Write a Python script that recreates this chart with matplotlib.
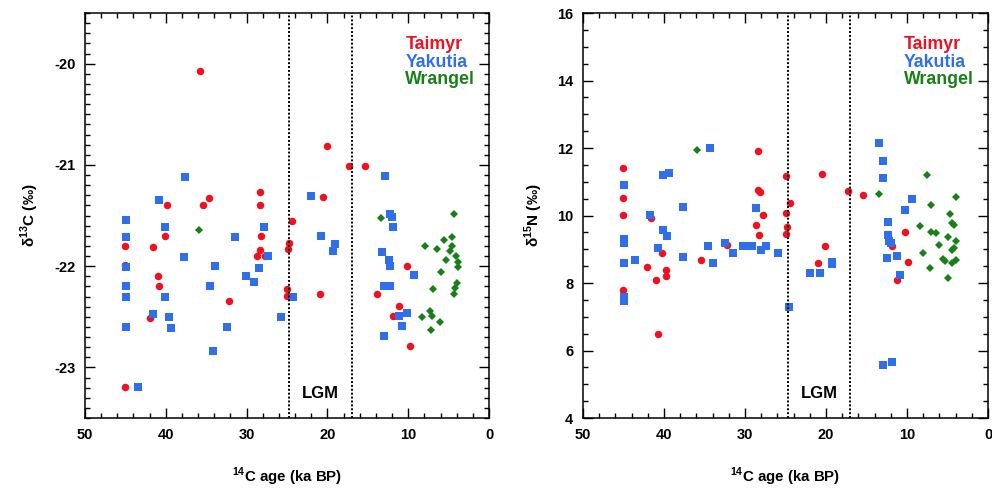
import numpy as np
import matplotlib
matplotlib.use("Agg")
import matplotlib.pyplot as plt
from matplotlib.ticker import MultipleLocator

plt.rcParams['font.family'] = ['Liberation Sans', 'DejaVu Sans']
plt.rcParams['font.weight'] = 'bold'
plt.rcParams['axes.unicode_minus'] = False
plt.rcParams['mathtext.fontset'] = 'custom'
plt.rcParams['mathtext.rm'] = 'Liberation Sans:bold'
plt.rcParams['mathtext.bf'] = 'Liberation Sans:bold'

# ---- d13C data (age in ka BP, value in permil) ----
taimyr_c_age = [35.8, 34.7, 28.3, 39.8, 35.4, 28.3, 40.1, 28.2, 45.0, 41.6, 28.3, 28.7,
                27.7, 24.8, 24.9, 24.4, 45.0, 41.0, 40.8, 25.0, 25.0, 32.2, 42.0, 45.0,
                20.0, 17.3, 15.3, 20.5, 20.9, 10.2, 13.9, 11.1, 11.9, 9.8]
taimyr_c = [-20.07, -21.33, -21.27, -21.40, -21.40, -21.40, -21.70, -21.70, -21.80, -21.81,
            -21.84, -21.90, -21.90, -21.77, -21.83, -21.55, -21.99, -22.10, -22.20, -22.23,
            -22.29, -22.34, -22.51, -23.19, -20.81, -21.01, -21.01, -21.32, -22.28, -22.00,
            -22.28, -22.39, -22.49, -22.79]

yakutia_c_age = [37.6, 40.8, 44.9, 40.1, 27.9, 44.9, 31.4, 27.3, 37.7, 44.9, 33.9, 28.5,
                 30.1, 29.1, 44.9, 34.5, 24.2, 44.9, 40.1, 41.6, 39.6, 25.8, 44.9, 39.4,
                 32.4, 34.2, 43.5, 22.0, 20.8, 19.1, 19.3, 12.9, 12.3, 12.0, 11.9, 13.2,
                 12.4, 12.2, 9.3, 13.0, 12.3, 11.1, 10.2, 10.8, 13.0]
yakutia_c = [-21.12, -21.35, -21.54, -21.61, -21.61, -21.71, -21.71, -21.90, -21.91, -22.01,
             -22.00, -22.02, -22.10, -22.16, -22.20, -22.20, -22.30, -22.30, -22.30, -22.47,
             -22.50, -22.50, -22.60, -22.61, -22.60, -22.84, -23.19, -21.31, -21.70, -21.78,
             -21.85, -21.11, -21.48, -21.51, -21.61, -21.86, -21.94, -22.00, -22.09, -22.20,
             -22.20, -22.49, -22.46, -22.59, -22.69]

wrangel_c_age = [35.9, 13.4, 4.3, 7.9, 6.4, 5.6, 4.6, 4.6, 4.8, 4.1, 5.3, 3.8, 3.8, 5.9,
                 6.9, 4.0, 4.2, 4.4, 7.3, 8.3, 7.1, 6.1, 7.2]
wrangel_c = [-21.64, -21.52, -21.48, -21.80, -21.83, -21.74, -21.71, -21.80, -21.85, -21.90,
             -21.94, -21.96, -22.01, -22.06, -22.23, -22.17, -22.22, -22.28, -22.44, -22.50,
             -22.49, -22.55, -22.63]

# ---- d15N data ----
taimyr_n_age = [45.1, 45.1, 28.4, 25.0, 28.4, 28.2, 45.1, 41.6, 40.2, 42.1, 39.8, 39.8,
                41.0, 45.1, 40.8, 35.4, 32.2, 27.8, 28.7, 28.3, 25.0, 20.5, 17.3, 15.4,
                24.4, 24.8, 24.9, 20.1, 21.0, 10.3, 11.9, 9.9, 11.2]
taimyr_n = [11.41, 10.52, 11.91, 11.17, 10.77, 10.70, 10.01, 9.94, 8.90, 8.46, 8.40, 8.20,
            8.10, 7.80, 6.48, 8.69, 9.14, 10.01, 9.71, 9.41, 10.08, 11.23, 10.72, 10.62,
            10.36, 9.66, 9.46, 9.10, 8.60, 9.50, 9.09, 8.62, 8.10]

yakutia_n_age = [45.0, 40.1, 39.4, 34.3, 41.7, 37.7, 40.1, 39.6, 45.0, 45.0, 40.8, 45.0,
                 43.6, 45.0, 45.0, 37.7, 34.6, 34.0, 32.5, 31.5, 30.2, 29.6, 29.1, 28.0,
                 27.4, 25.9, 28.6, 24.6, 22.0, 20.8, 19.3, 19.2, 13.4, 13.0, 13.0, 9.4,
                 10.3, 12.3, 12.3, 12.2, 12.0, 12.5, 11.2, 10.9, 13.0, 11.9]
yakutia_n = [10.90, 11.20, 11.27, 12.01, 10.01, 10.26, 9.58, 9.38, 9.29, 9.19, 9.04, 8.60,
             8.69, 7.58, 7.48, 8.77, 9.09, 8.59, 9.19, 8.89, 9.09, 9.09, 9.09, 8.99,
             9.09, 8.89, 10.21, 7.29, 8.29, 8.29, 8.55, 8.62, 12.14, 11.63, 11.10, 10.50,
             10.16, 9.81, 9.41, 9.24, 9.19, 8.75, 8.79, 8.25, 5.57, 5.65]

wrangel_n_age = [35.9, 13.5, 7.5, 4.0, 7.1, 4.7, 4.4, 4.2, 8.4, 7.0, 6.4, 4.9, 3.9, 6.1,
                 4.2, 4.4, 8.0, 5.5, 5.3, 4.0, 4.4, 7.2, 4.9]
wrangel_n = [11.94, 10.63, 11.20, 10.55, 10.31, 10.06, 9.78, 9.71, 9.69, 9.51, 9.49, 9.36,
             9.25, 9.12, 9.05, 8.97, 8.90, 8.72, 8.65, 8.67, 8.59, 8.45, 8.15]

lgm_bounds = [24.7, 17.0]
regions = ["Taimyr", "Yakutia", "Wrangel"]
colors = ["#f01020", "#2f6fec", "#178017"]
markers = ["o", "s", "D"]
msizes = [5.4, 5.4, 4.5]

fig = plt.figure(figsize=(9.92, 4.9), dpi=100)
ax1 = fig.add_axes([0.0857, 0.1469, 0.4073, 0.8265])
ax2 = fig.add_axes([0.5877, 0.1469, 0.4083, 0.8265])


def draw_panel(ax, series, ylim, ymajor, yminor, ylabel):
    for (x, y), c, m, ms in zip(series, colors, markers, msizes):
        ax.plot(x, y, linestyle="none", marker=m, color=c, markersize=ms,
                markeredgewidth=0)
    for b in lgm_bounds:
        ax.axvline(b, color="black", linestyle=(0, (1, 1)), linewidth=1.4)
    ax.text(np.mean(lgm_bounds), 0.06, "LGM", transform=ax.get_xaxis_transform(),
            ha="center", va="center", fontsize=12, fontweight="bold")
    for i, (name, c) in enumerate(zip(regions, colors)):
        ax.text(0.793, 0.923 - i * 0.044, name, transform=ax.transAxes, color=c,
                ha="left", va="center", fontsize=12.8, fontweight="bold")
    ax.set_xlim(50, 0)
    ax.set_ylim(*ylim)
    ax.xaxis.set_major_locator(MultipleLocator(10))
    ax.xaxis.set_minor_locator(MultipleLocator(2))
    ax.yaxis.set_major_locator(MultipleLocator(ymajor))
    ax.yaxis.set_minor_locator(MultipleLocator(yminor))
    ax.tick_params(which="both", direction="in", top=True, right=True, width=1,
                   labelsize=10.5, pad=7)
    ax.tick_params(which="major", length=7)
    ax.tick_params(which="minor", length=3.5)
    for s in ax.spines.values():
        s.set_linewidth(1.1)
    ax.set_xlabel(r"$^{14}$C age (ka BP)", fontsize=10.8, fontweight="bold", labelpad=17)
    ax.set_ylabel(ylabel, fontsize=11, fontweight="bold", labelpad=9)


draw_panel(ax1,
           [(taimyr_c_age, taimyr_c), (yakutia_c_age, yakutia_c), (wrangel_c_age, wrangel_c)],
           (-23.5, -19.5), 1, 0.1, r"δ$^{13}$C (‰)")
draw_panel(ax2,
           [(taimyr_n_age, taimyr_n), (yakutia_n_age, yakutia_n), (wrangel_n_age, wrangel_n)],
           (4, 16), 2, 0.5, r"δ$^{15}$N (‰)")

fig.savefig("out.png", dpi=100)
